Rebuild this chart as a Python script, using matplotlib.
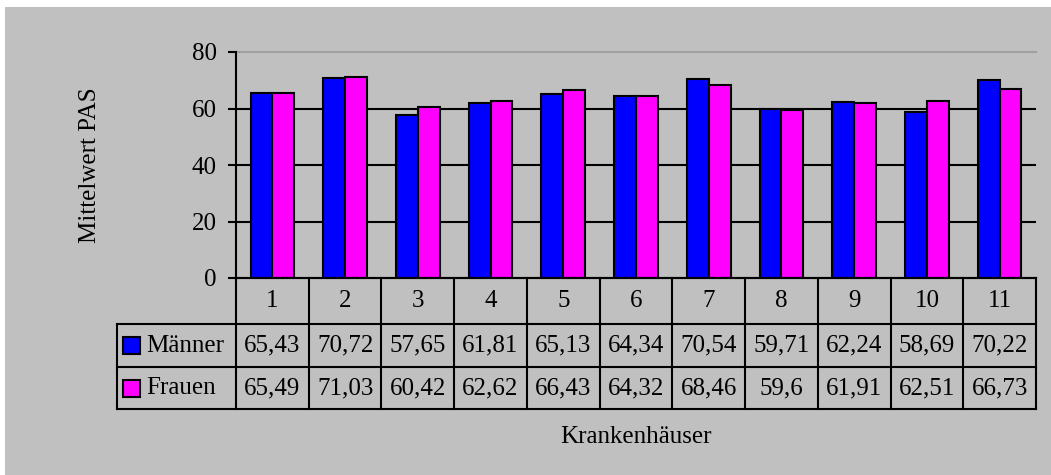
import matplotlib
matplotlib.use("Agg")
import matplotlib.pyplot as plt
from matplotlib.patches import Rectangle
from matplotlib.transforms import blended_transform_factory

# Data
hospitals = ["1", "2", "3", "4", "5", "6", "7", "8", "9", "10", "11"]
maenner = [65.43, 70.72, 57.65, 61.81, 65.13, 64.34, 70.54, 59.71, 62.24, 58.69, 70.22]
frauen = [65.49, 71.03, 60.42, 62.62, 66.43, 64.32, 68.46, 59.6, 61.91, 62.51, 66.73]
series_names = ["Männer", "Frauen"]
series_colors = ["#0000FF", "#FF00FF"]
y_ticks = [0, 20, 40, 60, 80]
y_label = "Mittelwert PAS"
x_label = "Krankenhäuser"

plt.rcParams["font.family"] = ["Liberation Serif", "DejaVu Serif"]
FS = 18

W, H = 1051, 475
fig = plt.figure(figsize=(W / 100, H / 100), dpi=100)
fig.patch.set_facecolor("white")

# grey chart area
fig.patches.append(Rectangle((5 / W, 0), 1 - 5 / W, (H - 7) / H,
                             transform=fig.transFigure, facecolor="#C0C0C0",
                             edgecolor="none", zorder=-10))

# plot area in pixels
L, R, T, B = 236, 1036, 52, 278
ax = fig.add_axes([L / W, (H - B) / H, (R - L) / W, (B - T) / H])
ax.set_facecolor("none")

n = len(hospitals)
xs = list(range(n))
bw = 0.3
ax.bar([x - bw / 2 for x in xs], maenner, width=bw, color=series_colors[0],
       edgecolor="black", linewidth=1.5, zorder=3)
ax.bar([x + bw / 2 for x in xs], frauen, width=bw, color=series_colors[1],
       edgecolor="black", linewidth=1.5, zorder=3)

ax.set_xlim(-0.5, n - 0.5)
ax.set_ylim(y_ticks[0], y_ticks[-1])

# gridlines
for t in y_ticks[1:-1]:
    ax.axhline(t, color="black", lw=1.5, zorder=1)
ax.axhline(y_ticks[-1], color="#A0A0A0", lw=1.5, zorder=1, clip_on=False)

for s in ["top", "right"]:
    ax.spines[s].set_visible(False)
ax.spines["left"].set_linewidth(1.5)
ax.spines["bottom"].set_linewidth(1.5)
ax.set_xticks([])
ax.set_yticks(y_ticks)
ax.set_yticklabels([str(t) for t in y_ticks], fontsize=FS)
ax.tick_params(axis="y", direction="out", length=6, width=1.5, pad=8)

# data table below the axis
px_per_unit = (R - L) / n
ph = B - T


def xdata(px):
    return -0.5 + (px - L) / px_per_unit


def yax(py):
    return (B - py) / ph


tr = blended_transform_factory(ax.transData, ax.transAxes)
row_edges = [B, 324, 367, 409]
left_edge = xdata(117)
lw = 1.5
kw = dict(color="black", lw=lw, transform=tr, clip_on=False, zorder=4)

# horizontal lines
ax.plot([-0.5, n - 0.5], [yax(row_edges[0])] * 2, **kw)
for py in row_edges[1:]:
    ax.plot([left_edge, n - 0.5], [yax(py)] * 2, **kw)
# vertical lines
for i in range(n + 1):
    ax.plot([i - 0.5, i - 0.5], [yax(row_edges[0]), yax(row_edges[-1])], **kw)
ax.plot([left_edge, left_edge], [yax(row_edges[1]), yax(row_edges[-1])], **kw)

# header row: hospital numbers
hc = yax((row_edges[0] + row_edges[1]) / 2)
for i, h in enumerate(hospitals):
    ax.text(i, hc, h, ha="center", va="center", fontsize=FS, transform=tr)

# series rows
for r, (name, vals, col) in enumerate(zip(series_names, [maenner, frauen], series_colors)):
    top, bot = row_edges[r + 1], row_edges[r + 2]
    cy = yax((top + bot) / 2)
    sq = 17
    ax.add_patch(Rectangle((xdata(123), yax((top + bot) / 2 + sq / 2)),
                           sq / px_per_unit, sq / ph, facecolor=col,
                           edgecolor="black", lw=1.5, transform=tr,
                           clip_on=False, zorder=5))
    ax.text(xdata(146), cy, name, ha="left", va="center", fontsize=FS, transform=tr)
    for i, v in enumerate(vals):
        ax.text(i, cy, f"{v:g}".replace(".", ","), ha="center", va="center",
                fontsize=FS, transform=tr)

# axis titles
fig.text(90 / W, 1 - 165 / H, y_label, rotation=90, ha="center", va="center", fontsize=FS)
fig.text(636 / W, 1 - 437 / H, x_label, ha="center", va="center", fontsize=FS)

fig.savefig("out.png", dpi=100, facecolor=fig.get_facecolor())
